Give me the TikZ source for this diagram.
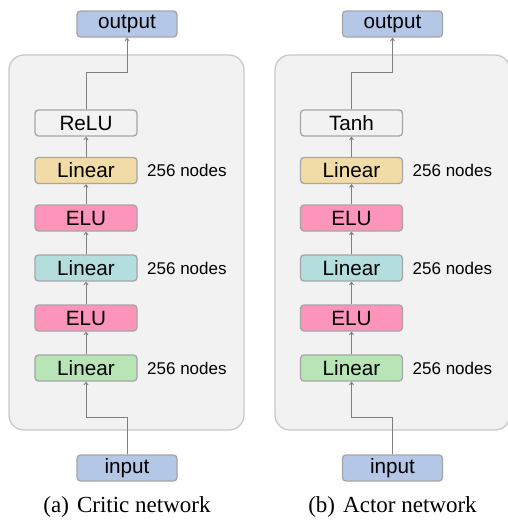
\documentclass[tikz,border=0pt]{standalone}
\usepackage{fontspec}
\setmainfont{Liberation Serif}
\newfontfamily\arialf{Liberation Sans}
\usetikzlibrary{arrows.meta}
\definecolor{ioblue}{HTML}{B4C7E7}
\definecolor{ylw}{HTML}{F1DCA7}
\definecolor{pnk}{HTML}{FD95BA}
\definecolor{tealc}{HTML}{B3DEDD}
\definecolor{grn}{HTML}{B7E5B6}
\definecolor{actg}{HTML}{F2F2F2}
\definecolor{boxline}{HTML}{A6A6A6}
\definecolor{contline}{HTML}{C9C9C9}
\definecolor{contfill}{HTML}{F2F2F2}
\definecolor{arrc}{HTML}{7F7F7F}
\tikzset{
  blk/.style={draw=boxline, line width=1.3pt, rounded corners=3.5pt, minimum width=102pt, minimum height=26pt, inner sep=0pt, font=\arialf\fontsize{20.7}{24}\selectfont},
  iobox/.style={blk, fill=ioblue, minimum width=100pt},
  ann/.style={anchor=west, inner sep=0pt, font=\arialf\fontsize{17}{20}\selectfont},
  capt/.style={inner sep=0pt, font=\fontsize{23}{27}\selectfont},
  cont/.style={draw=contline, fill=contfill, line width=1.3pt, rounded corners=15pt},
  arr/.style={draw=arrc, line width=0.9pt, -{Straight Barb[length=2.5pt,width=4pt]}}
}
\begin{document}
\begin{tikzpicture}[x=1pt,y=-1pt]
\useasboundingbox (0,0) rectangle (507,520);
% ---------- left panel ----------
\draw[cont] (9,55) rectangle (244,430);
\node[iobox] (aout) at (127,24) {output};
\node[blk, fill=actg] (arelu) at (86,123) {ReLU};
\node[blk, fill=ylw] (alin3) at (86,170.5) {Linear};
\node[blk, fill=pnk] (aelu2) at (86,218) {ELU};
\node[blk, fill=tealc] (alin2) at (86,268) {Linear};
\node[blk, fill=pnk] (aelu1) at (86,318) {ELU};
\node[blk, fill=grn] (alin1) at (86,368) {Linear};
\node[iobox] (ain) at (127,468) {input};
\node[ann] (aann3) at (147,170.5) {256 nodes};
\node[ann] (aann2) at (147,268) {256 nodes};
\node[ann] (aann1) at (147,368) {256 nodes};
\node[capt] (acap) at (127,507) {(a)\hspace{0.35em}Critic network};
\draw[arr] (ain.north) -- ++(0,-37) -| (alin1.south);
\draw[arr] (alin1.north) -- (aelu1.south);
\draw[arr] (aelu1.north) -- (alin2.south);
\draw[arr] (alin2.north) -- (aelu2.south);
\draw[arr] (aelu2.north) -- (alin3.south);
\draw[arr] (alin3.north) -- (arelu.south);
\draw[arr] (arelu.north) -- ++(0,-37) -| (aout.south);
% ---------- right panel ----------
\draw[cont] (275,55) rectangle (510,430);
\node[iobox] (bout) at (392.5,24) {output};
\node[blk, fill=actg] (btanh) at (351.5,123) {Tanh};
\node[blk, fill=ylw] (blin3) at (351.5,170.5) {Linear};
\node[blk, fill=pnk] (belu2) at (351.5,218) {ELU};
\node[blk, fill=tealc] (blin2) at (351.5,268) {Linear};
\node[blk, fill=pnk] (belu1) at (351.5,318) {ELU};
\node[blk, fill=grn] (blin1) at (351.5,368) {Linear};
\node[iobox] (bin) at (392.5,468) {input};
\node[ann] (bann3) at (412.5,170.5) {256 nodes};
\node[ann] (bann2) at (412.5,268) {256 nodes};
\node[ann] (bann1) at (412.5,368) {256 nodes};
\node[capt] (bcap) at (392.5,507) {(b)\hspace{0.35em}Actor network};
\draw[arr] (bin.north) -- ++(0,-37) -| (blin1.south);
\draw[arr] (blin1.north) -- (belu1.south);
\draw[arr] (belu1.north) -- (blin2.south);
\draw[arr] (blin2.north) -- (belu2.south);
\draw[arr] (belu2.north) -- (blin3.south);
\draw[arr] (blin3.north) -- (btanh.south);
\draw[arr] (btanh.north) -- ++(0,-37) -| (bout.south);
\end{tikzpicture}
\end{document}
